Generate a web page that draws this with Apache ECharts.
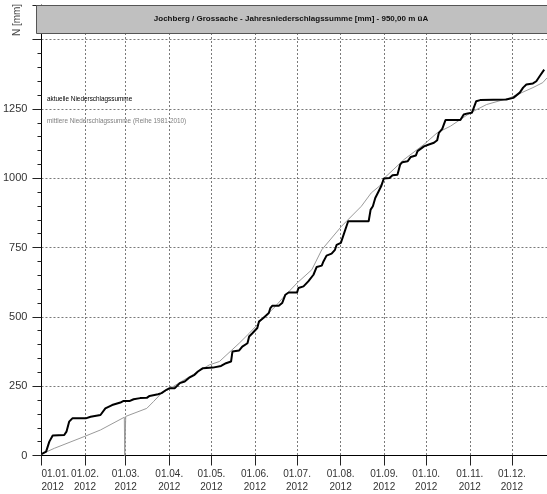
<!DOCTYPE html>
<html><head><meta charset="utf-8">
<script src="https://cdn.jsdelivr.net/npm/echarts@6/dist/echarts.min.js"></script>
<style>html,body{margin:0;padding:0;background:#fff}#c{width:547px;height:494px}</style>
</head><body><div id="c"></div>
<script>
// Tick positions (day of year 2012, 0 = 01.01.) and labels
var monthDays = [0, 31, 60, 91, 121, 152, 182, 213, 244, 274, 305, 335];
var monthLabels = ['01.01.\n2012','01.02.\n2012','01.03.\n2012','01.04.\n2012','01.05.\n2012','01.06.\n2012',
  '01.07.\n2012','01.08.\n2012','01.09.\n2012','01.10.\n2012','01.11.\n2012','01.12.\n2012'];
var yTicks = [0, 250, 500, 750, 1000, 1250];

// aktuelle Niederschlagssumme: [day, mm]
var actualDays = [0,3.3,5.6,8,16.2,17.8,19.7,22,31.5,35,42,43.2,45.5,50.3,56.2,58.5,63,65.6,70.3,75,77,83,85.5,89,91.3,95,98.5,102,105.6,109,111.4,115,122,127.9,131.4,135,136,140.8,143,146.7,147.9,150.2,153.7,154.9,158,161.9,163,164.3,169,171.4,173.7,176,182,183,186.6,190,193.7,196,199.6,200.8,203,206.6,209,210.2,213.2,215.6,217.2,218.4,233,234.4,236,237.7,239.5,241.9,243.8,247.8,250,253.5,255.4,257,260.7,263,266.6,267.8,272.4,275.9,279.5,281.8,283,285.4,287.7,298.3,300.7,303.5,306.5,309.6,312.4,331,336,340.6,343,345.3,350,352.4,355,358];
var actualVals = [5,14,50,72,74,86,122,134,134,140,146,152,170,182,191,197,197,203,207,208,215,221,225,237,243,243,261,267,282,291,303,315,317,323,333,339,375,379,393,405,429,441,460,483,496,514,532,540,540,550,580,588,588,604,610,628,652,680,685,700,721,728,742,760,767,803,827,845,845,887,899,929,947,971,999,1001,1011,1013,1049,1058,1061,1077,1082,1098,1115,1122,1128,1137,1164,1178,1210,1210,1230,1234,1236,1278,1282,1284,1290,1309,1327,1338,1342,1350,1370,1392];

// mittlere Niederschlagssumme (Reihe 1981-2010): [day, mm]
var meanDays = [0,9.2,30.3,42,59,59.3,59.7,60,75,79.7,85.5,91,100,110,119.6,126.7,140.8,148,157,166.6,171.4,182,192.5,199.6,213.7,227.8,234.8,241.9,244.2,258.3,272.4,281.8,291.3,305.4,317,333.6,350,357,360];
var meanVals = [5,26,68,92,138,0,0,141,170,194,225,240,268,298,327,339,405,441,490,538,566,622,670,742,827,899,947,977,1001,1068,1122,1164,1188,1236,1266,1290,1327,1345,1362];

var titleText = 'Jochberg / Grossache - Jahresniederschlagssumme [mm] - 950,00 m üA';

function zip(a, b) { return a.map(function (v, i) { return [v, b[i]]; }); }

var chart = echarts.init(document.getElementById('c'), null, {renderer: 'canvas'});
var gridColor = '#7a7a7a';
chart.setOption({
  animation: false,
  backgroundColor: '#ffffff',
  grid: {left: 37, right: 0, top: 5, bottom: 38.5},
  xAxis: {
    type: 'value', min: 0, max: 360,
    axisLine: {show: true, lineStyle: {color: '#000', width: 1}},
    axisTick: {show: true, length: 10, customValues: monthDays, lineStyle: {color: '#222'}},
    axisLabel: {customValues: monthDays, fontFamily: 'Liberation Sans, Arial, sans-serif', fontSize: 10,
      lineHeight: 13, color: '#333', margin: 12, showMinLabel: true, alignMinLabel: 'left', hideOverlap: false,
      formatter: function (v) { var i = monthDays.indexOf(v); return i >= 0 ? monthLabels[i] : ''; }},
    splitLine: {show: true, lineStyle: {color: gridColor, type: [2, 2], width: 1}}
  },
  yAxis: {
    type: 'value', min: 0, max: 1625, interval: 250,
    axisLine: {show: true, lineStyle: {color: '#000', width: 1}},
    axisTick: {show: true, length: 9, lineStyle: {color: '#222'}},
    minorTick: {show: true, splitNumber: 5, length: 4, lineStyle: {color: '#222'}},
    axisLabel: {fontFamily: 'Liberation Sans, Arial, sans-serif', fontSize: 11, color: '#333', margin: 14,
      formatter: function (v) { return yTicks.indexOf(v) >= 0 ? String(v) : ''; }},
    splitLine: {show: true, lineStyle: {color: gridColor, type: [2, 2], width: 1}}
  },
  series: [
    {type: 'line', data: zip(meanDays, meanVals), symbol: 'none', z: 2,
      lineStyle: {color: '#9a9a9a', width: 1}},
    {type: 'line', data: zip(actualDays, actualVals), symbol: 'none', z: 3,
      lineStyle: {color: '#000000', width: 2}}
  ],
  graphic: [
    {type: 'rect', left: 36, top: 5, z: 100, shape: {width: 511, height: 28},
      style: {fill: '#c0c0c0', stroke: '#555', lineWidth: 1}},
    {type: 'text', x: 291, y: 19, z: 101,
      style: {text: titleText, fontFamily: 'Liberation Sans, Arial, sans-serif', fontSize: 8, fontWeight: 'bold',
        fill: '#111', align: 'center', verticalAlign: 'middle'}},
    {type: 'text', x: 17, y: 20, rotation: Math.PI / 2, z: 101,
      style: {text: 'N [mm]', fontFamily: 'Liberation Sans, Arial, sans-serif', fontSize: 10,
        fill: '#444', align: 'center', verticalAlign: 'middle'}},
    {type: 'text', x: 47, y: 99, z: 101,
      style: {text: 'aktuelle Niederschlagssumme', fontFamily: 'Liberation Sans, Arial, sans-serif', fontSize: 6.4,
        fill: '#000', align: 'left', verticalAlign: 'middle'}},
    {type: 'text', x: 47, y: 121, z: 101,
      style: {text: 'mittlere Niederschlagssumme (Reihe 1981-2010)', fontFamily: 'Liberation Sans, Arial, sans-serif', fontSize: 6.4,
        fill: '#808080', align: 'left', verticalAlign: 'middle'}}
  ]
});
</script></body></html>
